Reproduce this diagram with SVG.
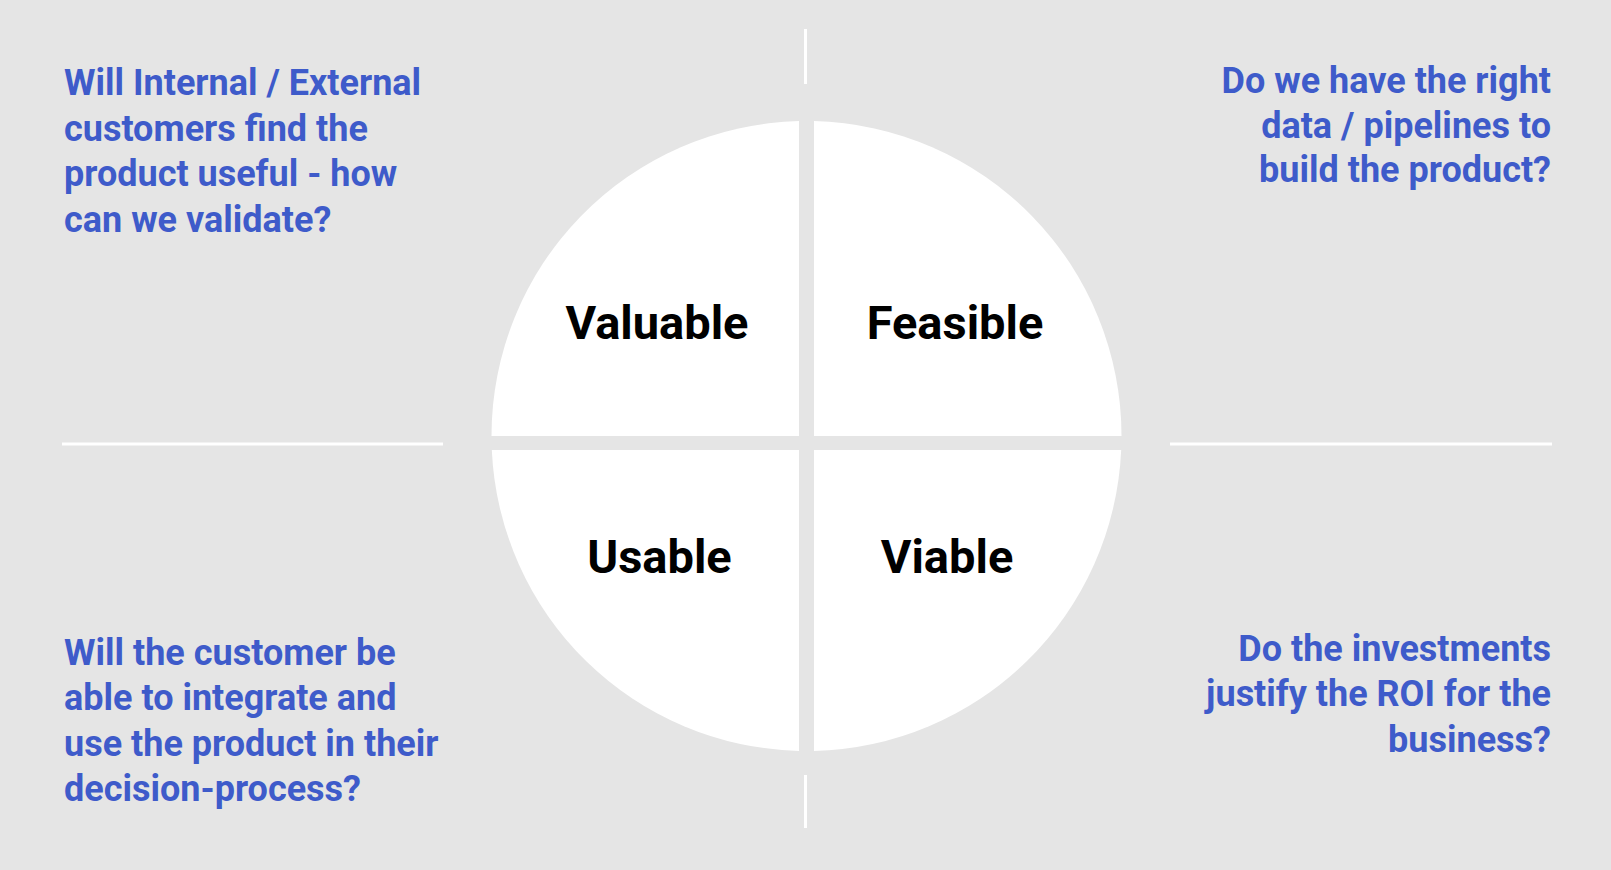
<svg xmlns="http://www.w3.org/2000/svg" width="1611" height="870" viewBox="0 0 1611 870">
<style>
.q{fill:#ffffff}
.lbl{font-family:Roboto,"Liberation Sans",sans-serif;font-weight:bold;font-size:47px;fill:#000000;text-anchor:middle}
.qs{font-family:Roboto,"Liberation Sans",sans-serif;font-weight:bold;font-size:36px;fill:#3e5bca}
.r{text-anchor:end}
.ln{stroke:#ffffff;stroke-width:3;fill:none}
</style>
<rect x="0" y="0" width="1611" height="870" fill="#e5e5e5"/>
<g id="connectors">
<line class="ln" x1="805.5" y1="29" x2="805.5" y2="84"/>
<line class="ln" x1="805.5" y1="775" x2="805.5" y2="828"/>
<line class="ln" x1="62" y1="444" x2="443" y2="444"/>
<line class="ln" x1="1170" y1="444" x2="1552" y2="444"/>
</g>
<g id="valuable">
<path class="q" d="M 799 121.09 A 315 315 0 0 0 491.5 436 L 799 436 Z"/>
<text class="lbl" x="657" y="339">Valuable</text>
</g>
<g id="feasible">
<path class="q" d="M 814 121.09 L 814 436 L 1121.5 436 A 315 315 0 0 0 814 121.09 Z"/>
<text class="lbl" x="955" y="339">Feasible</text>
</g>
<g id="usable">
<path class="q" d="M 491.81 450 L 799 450 L 799 750.91 A 315 315 0 0 1 491.81 450 Z"/>
<text class="lbl" x="659.5" y="573">Usable</text>
</g>
<g id="viable">
<path class="q" d="M 814 450 L 1121.19 450 A 315 315 0 0 1 814 750.91 Z"/>
<text class="lbl" x="947" y="573">Viable</text>
</g>
<g id="q-valuable">
<text class="qs" x="64" y="95">Will Internal / External</text>
<text class="qs" x="64" y="140.5">customers find the</text>
<text class="qs" x="64" y="186">product useful - how</text>
<text class="qs" x="64" y="231.5">can we validate?</text>
</g>
<g id="q-feasible">
<text class="qs r" x="1551" y="92.5">Do we have the right</text>
<text class="qs r" x="1551" y="137.5">data / pipelines to</text>
<text class="qs r" x="1551" y="182">build the product?</text>
</g>
<g id="q-usable">
<text class="qs" x="64" y="664.5">Will the customer be</text>
<text class="qs" x="64" y="710">able to integrate and</text>
<text class="qs" x="64" y="755.5">use the product in their</text>
<text class="qs" x="64" y="801">decision-process?</text>
</g>
<g id="q-viable">
<text class="qs r" x="1551" y="660.5">Do the investments</text>
<text class="qs r" x="1551" y="706">justify the ROI for the</text>
<text class="qs r" x="1551" y="751.5">business?</text>
</g>
</svg>
